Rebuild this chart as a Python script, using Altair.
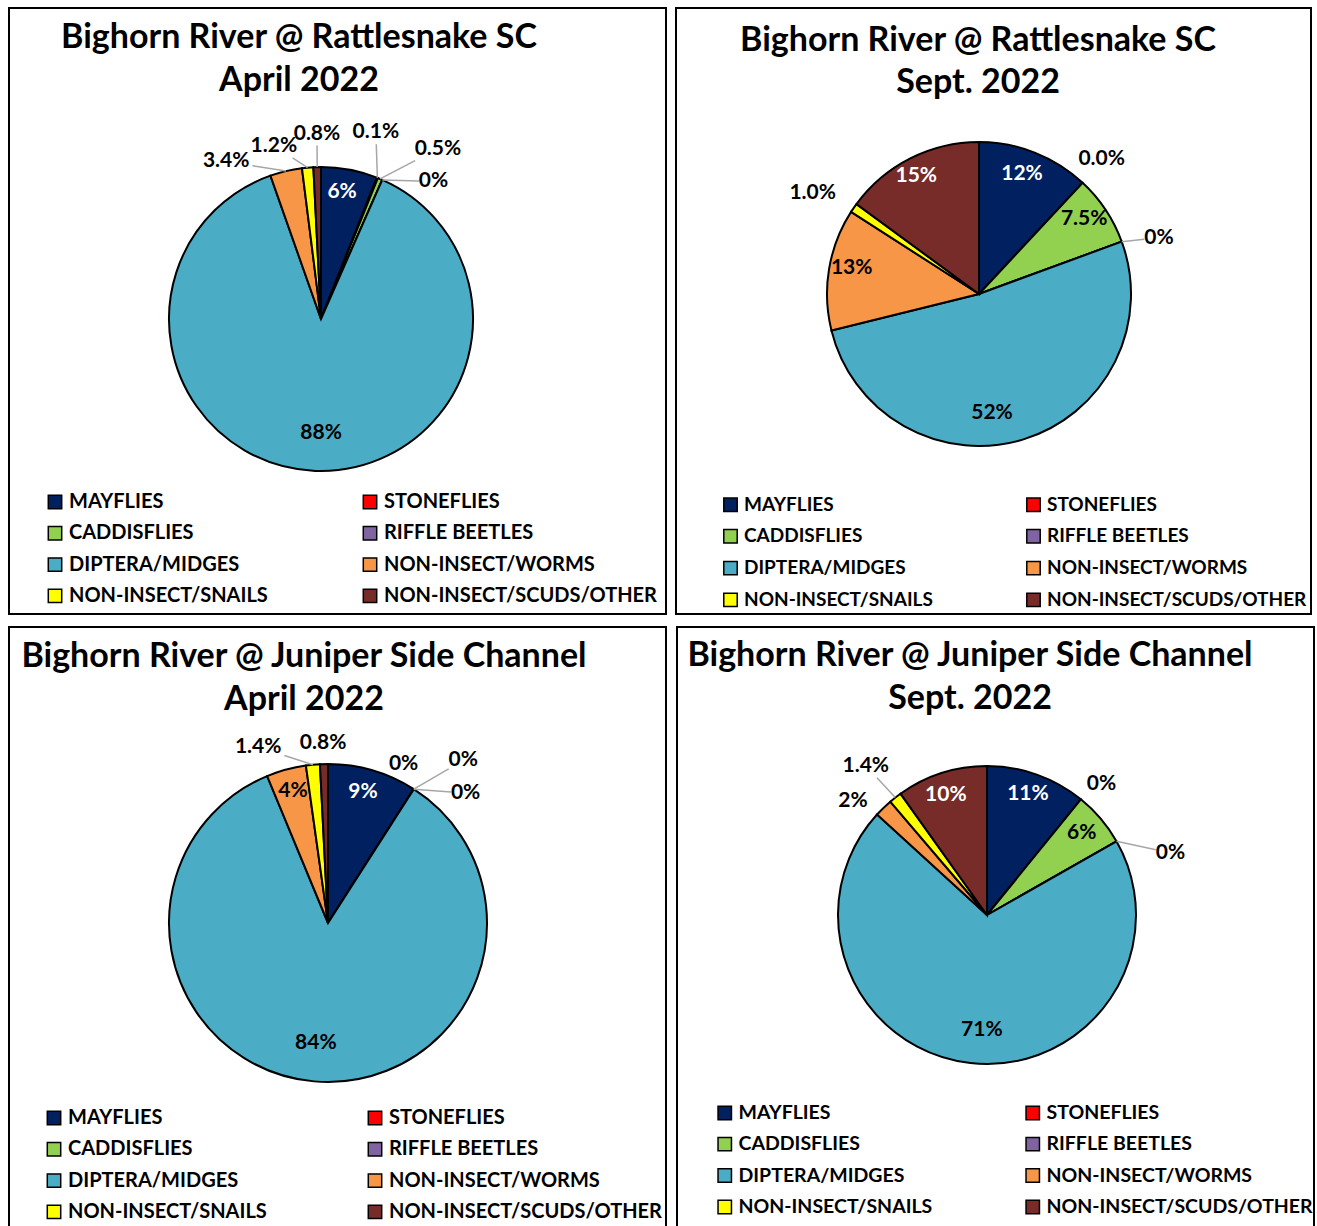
import math
import altair as alt
import pandas as pd

# Taxa groups, in the order the slices run clockwise from 12 o'clock
CATEGORIES = [
    "MAYFLIES", "STONEFLIES", "CADDISFLIES", "RIFFLE BEETLES",
    "DIPTERA/MIDGES", "NON-INSECT/WORMS", "NON-INSECT/SNAILS",
    "NON-INSECT/SCUDS/OTHER",
]
COLORS = ["#002060", "#FF0000", "#92D050", "#8064A2",
          "#4BACC6", "#F79646", "#FFFF00", "#772C2A"]

# Percent composition of each sample
RATTLESNAKE_APR = [6, 0.1, 0.5, 0, 88, 3.4, 1.2, 0.8]
RATTLESNAKE_SEP = [12, 0.0, 7.5, 0, 52, 13, 1.0, 15]
JUNIPER_APR = [9, 0, 0, 0, 84, 4, 1.4, 0.8]
JUNIPER_SEP = [11, 0, 6, 0, 71, 2, 1.4, 10]

# Decimal places printed on each slice label
RATTLESNAKE_APR_DEC = [0, 1, 1, 0, 0, 1, 1, 1]
RATTLESNAKE_SEP_DEC = [0, 1, 1, 0, 0, 0, 1, 0]
JUNIPER_APR_DEC = [0, 0, 0, 0, 0, 0, 1, 1]
JUNIPER_SEP_DEC = [0, 0, 0, 0, 0, 0, 1, 0]

# Label placement: distance from centre (fraction of radius),
# angular nudge in degrees, and whether a leader line is drawn
RATTLESNAKE_APR_LBL = dict(
    rf=[0.85, 1.28, 1.36, 1.17, 0.75, 1.21, 1.18, 1.22],
    da=[-1.4, -5.4, 11.6, 15.5, -2.2, -17.7, -10.2, 0.2],
    leader=[0, 1, 1, 1, 0, 1, 1, 1])
RATTLESNAKE_SEP_LBL = dict(
    rf=[0.84, 1.2, 0.85, 1.24, 0.79, 0.855, 1.28, 0.88],
    da=[-1.8, -0.7, -1.9, 2.8, 10.8, 2.2, -3.2, -1.1],
    leader=[0, 0, 0, 1, 0, 0, 0, 0])
JUNIPER_APR_LBL = dict(
    rf=[0.85, 1.11, 1.33, 1.19, 0.76, 0.86, 1.19, 1.13],
    da=[-1.3, -7.3, 7.1, 14.0, 0.7, 0.4, -16.2, -0.1],
    leader=[0, 0, 1, 1, 0, 0, 1, 0])
JUNIPER_SEP_LBL = dict(
    rf=[0.86, 1.17, 0.84, 1.3, 0.77, 1.18, 1.29, 0.85],
    da=[-0.9, 2.0, -0.5, 10.9, -3.8, -5.6, -1.1, -1.2],
    leader=[0, 0, 0, 1, 0, 0, 1, 0])

FONT = "Lato"
LABEL_SIZE = 21
TITLE_SIZE = 34
TWO_PI = 2 * math.pi


def panel(title1, title2, values, decimals, lbl, cx, cy, r, w, h,
          tx, ty1, ty2, lx, ly, col_pad, legend_size, row_pad):
    df = pd.DataFrame({
        "idx": list(range(len(CATEGORIES))),
        "category": CATEGORIES,
        "value": values,
        "label": [f"{v:.{d}f}%" for v, d in zip(values, decimals)],
        "rf": lbl["rf"],
        "da": lbl["da"],
        "leader": lbl["leader"],
    })
    base = alt.Chart(df).transform_joinaggregate(
        total="sum(value)"
    ).transform_window(
        cum="sum(value)", sort=[alt.SortField("idx")], frame=[None, 0]
    ).transform_calculate(
        t0="(datum.cum - datum.value) / datum.total",
        t1="datum.cum / datum.total",
    ).transform_calculate(
        mid0=f"(datum.t0 + datum.t1) / 2 * {TWO_PI}",
    ).transform_calculate(
        mid="datum.mid0 + datum.da * PI / 180",
        sx=f"{cx} + {r} * sin(datum.mid0)",
        sy=f"{cy} - {r} * cos(datum.mid0)",
    ).transform_calculate(
        lx=f"{cx} + datum.rf * {r} * sin(datum.mid)",
        ly=f"{cy} - datum.rf * {r} * cos(datum.mid)",
        tcolor="datum.rf < 1 && (datum.idx == 0 || datum.idx == 7) ? 'white' : 'black'",
    )

    arcs = base.mark_arc(
        outerRadius=r, stroke="black", strokeWidth=2, opacity=1
    ).encode(
        theta=alt.Theta("t0:Q", scale=alt.Scale(domain=[0, 1], range=[0, TWO_PI]), stack=None),
        theta2=alt.Theta2("t1"),
        color=alt.Color(
            "category:N",
            scale=alt.Scale(domain=CATEGORIES, range=COLORS),
            sort=CATEGORIES,
            legend=alt.Legend(
                title=None, orient="none", legendX=lx, legendY=ly,
                direction="horizontal",
                columns=2, columnPadding=col_pad, rowPadding=row_pad,
                symbolType="square", symbolSize=180,
                symbolStrokeColor="black", symbolStrokeWidth=1.5,
                symbolOpacity=1,
                labelFont=FONT, labelFontWeight="bold",
                labelFontSize=legend_size, labelColor="black",
                labelLimit=400, labelOffset=4,
            ),
        ),
        x=alt.value(cx),
        y=alt.value(cy),
    )

    leaders = base.transform_filter("datum.leader == 1").transform_calculate(
        dx="datum.sx - datum.lx", dy="datum.sy - datum.ly",
    ).transform_calculate(
        n="sqrt(datum.dx * datum.dx + datum.dy * datum.dy)",
    ).transform_calculate(
        ux="datum.dx / datum.n", uy="datum.dy / datum.n",
    ).transform_calculate(
        d="min((5.8 * length(datum.label) + 3) / max(abs(datum.ux), 0.001), 12 / max(abs(datum.uy), 0.001))",
    ).transform_calculate(
        ex="datum.lx + datum.ux * datum.d",
        ey="datum.ly + datum.uy * datum.d",
    ).mark_rule(color="#A6A6A6", strokeWidth=1.5).encode(
        x=alt.X("sx:Q", scale=None, axis=None),
        y=alt.Y("sy:Q", scale=None, axis=None),
        x2="ex:Q",
        y2="ey:Q",
    )

    labels = base.mark_text(
        font=FONT, fontWeight="bold", fontSize=LABEL_SIZE,
        align="center", baseline="middle",
    ).encode(
        x=alt.X("lx:Q", scale=None, axis=None),
        y=alt.Y("ly:Q", scale=None, axis=None),
        text="label:N",
        color=alt.Color("tcolor:N", scale=None, legend=None),
    )

    titles = alt.Chart(pd.DataFrame({"t": [title1, title2], "row": [0, 1]})).transform_calculate(
        ty=f"datum.row == 0 ? {ty1} : {ty2}"
    ).mark_text(
        font=FONT, fontWeight="bold", fontSize=TITLE_SIZE, color="black",
        align="center", baseline="middle",
    ).encode(
        x=alt.value(tx),
        y=alt.Y("ty:Q", scale=None, axis=None),
        text="t:N",
    )

    return alt.layer(arcs, leaders, labels, titles).properties(width=w, height=h)


p1 = panel("Bighorn River @ Rattlesnake SC", "April 2022",
           RATTLESNAKE_APR, RATTLESNAKE_APR_DEC, RATTLESNAKE_APR_LBL,
           cx=312, cy=311, r=152, w=657, h=606,
           tx=290, ty1=30, ty2=73, lx=36, ly=484, col_pad=92,
           legend_size=20, row_pad=11.3)
p2 = panel("Bighorn River @ Rattlesnake SC", "Sept. 2022",
           RATTLESNAKE_SEP, RATTLESNAKE_SEP_DEC, RATTLESNAKE_SEP_LBL,
           cx=303, cy=286, r=152, w=635, h=606,
           tx=302, ty1=33, ty2=75, lx=45, ly=487, col_pad=90,
           legend_size=19, row_pad=10.8)
p3 = panel("Bighorn River @ Juniper Side Channel", "April 2022",
           JUNIPER_APR, JUNIPER_APR_DEC, JUNIPER_APR_LBL,
           cx=319, cy=296, r=159, w=657, h=605,
           tx=295, ty1=30, ty2=73, lx=35, ly=481, col_pad=98,
           legend_size=20, row_pad=11.3)
p4 = panel("Bighorn River @ Juniper Side Channel", "Sept. 2022",
           JUNIPER_SEP, JUNIPER_SEP_DEC, JUNIPER_SEP_LBL,
           cx=310, cy=288, r=149, w=637, h=605,
           tx=293, ty1=29, ty2=72, lx=38, ly=476, col_pad=90,
           legend_size=19.5, row_pad=10.4)

top = alt.hconcat(p1, p2, spacing=8).resolve_scale(color="independent").resolve_legend(color="independent")
bottom = alt.hconcat(p3, p4, spacing=9).resolve_scale(color="independent").resolve_legend(color="independent")

chart = alt.vconcat(top, bottom, spacing=11).resolve_scale(
    color="independent"
).resolve_legend(
    color="independent"
).properties(
    padding={"left": 8, "top": 7, "right": 0, "bottom": 0},
    background="white",
).configure(
    font=FONT
).configure_view(
    stroke="black", strokeWidth=2
)

chart.save("out.html", embed_options={"renderer": "svg", "actions": False})
